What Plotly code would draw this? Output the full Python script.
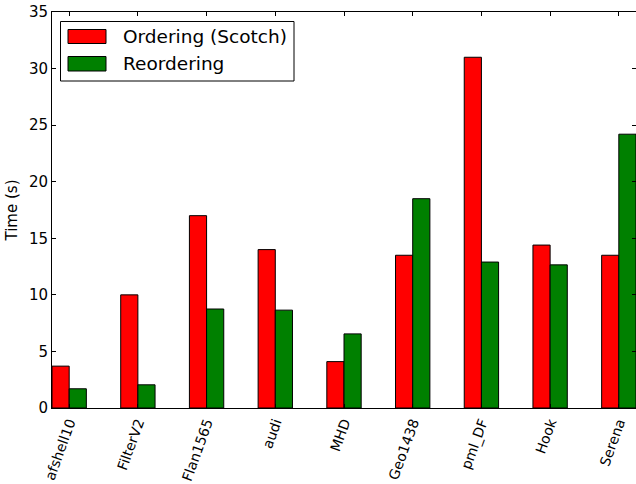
import plotly.graph_objects as go

categories = ["afshell10", "FilterV2", "Flan1565", "audi", "MHD", "Geo1438", "pml_DF", "Hook", "Serena"]
ordering_scotch = [3.7, 10.0, 17.0, 14.0, 4.1, 13.5, 31.0, 14.4, 13.5]
reordering = [1.7, 2.05, 8.75, 8.65, 6.55, 18.5, 12.9, 12.65, 24.2]
series_names = ["Ordering (Scotch)", "Reordering"]
series_colors = ["#ff0000", "#008000"]
y_ticks = [0, 5, 10, 15, 20, 25, 30, 35]

W, H = 636, 484
L, R, T, B = 52, 0, 12, 76
PW, PH = W - L - R, H - T - B


def px(x):
    return (x - L) / PW


def py(y):
    return (T + PH - y) / PH


fig = go.Figure()
for name, vals, col in zip(series_names, [ordering_scotch, reordering], series_colors):
    fig.add_trace(go.Bar(
        x=categories, y=vals, name=name, showlegend=False,
        marker=dict(color=col, line=dict(color="black", width=1)),
    ))

font = "DejaVu Sans"
axis_common = dict(
    showgrid=False, zeroline=False, showline=True, linecolor="black", linewidth=1,
    ticks="inside", ticklen=4, tickcolor="black", mirror="ticks", automargin=False,
    tickfont=dict(family=font, size=15, color="black"),
)

fig.update_layout(
    width=W, height=H,
    margin=dict(l=L, r=R, t=T, b=B, pad=0),
    paper_bgcolor="white", plot_bgcolor="white",
    barmode="group", bargap=0.5, bargroupgap=0,
    showlegend=False,
    xaxis=dict(axis_common, range=[-0.25, 8.25], tickangle=-70, ticklabelstandoff=0,
               tickfont=dict(family=font, size=14, color="black")),
    yaxis=dict(axis_common, range=[0, 35], tickvals=y_ticks,
               title=dict(text="Time (s)", font=dict(family=font, size=15, color="black"), standoff=7)),
)

# Legend drawn manually (box, patches, labels)
fig.add_shape(type="rect", xref="paper", yref="paper",
              x0=px(60.5), x1=px(294), y0=py(81), y1=py(21.5),
              line=dict(color="black", width=1), fillcolor="white")
patch_rows = [(29.5, 43.5), (56.5, 71)]
for (y0, y1), name, col in zip(patch_rows, series_names, series_colors):
    fig.add_shape(type="rect", xref="paper", yref="paper",
                  x0=px(68), x1=px(106), y0=py(y1), y1=py(y0),
                  line=dict(color="black", width=1), fillcolor=col)
    fig.add_annotation(xref="paper", yref="paper", x=px(121), y=py((y0 + y1) / 2),
                       text=name, showarrow=False, xanchor="left", yanchor="middle",
                       font=dict(family=font, size=18.5, color="black"))

fig.write_html("out.html")
